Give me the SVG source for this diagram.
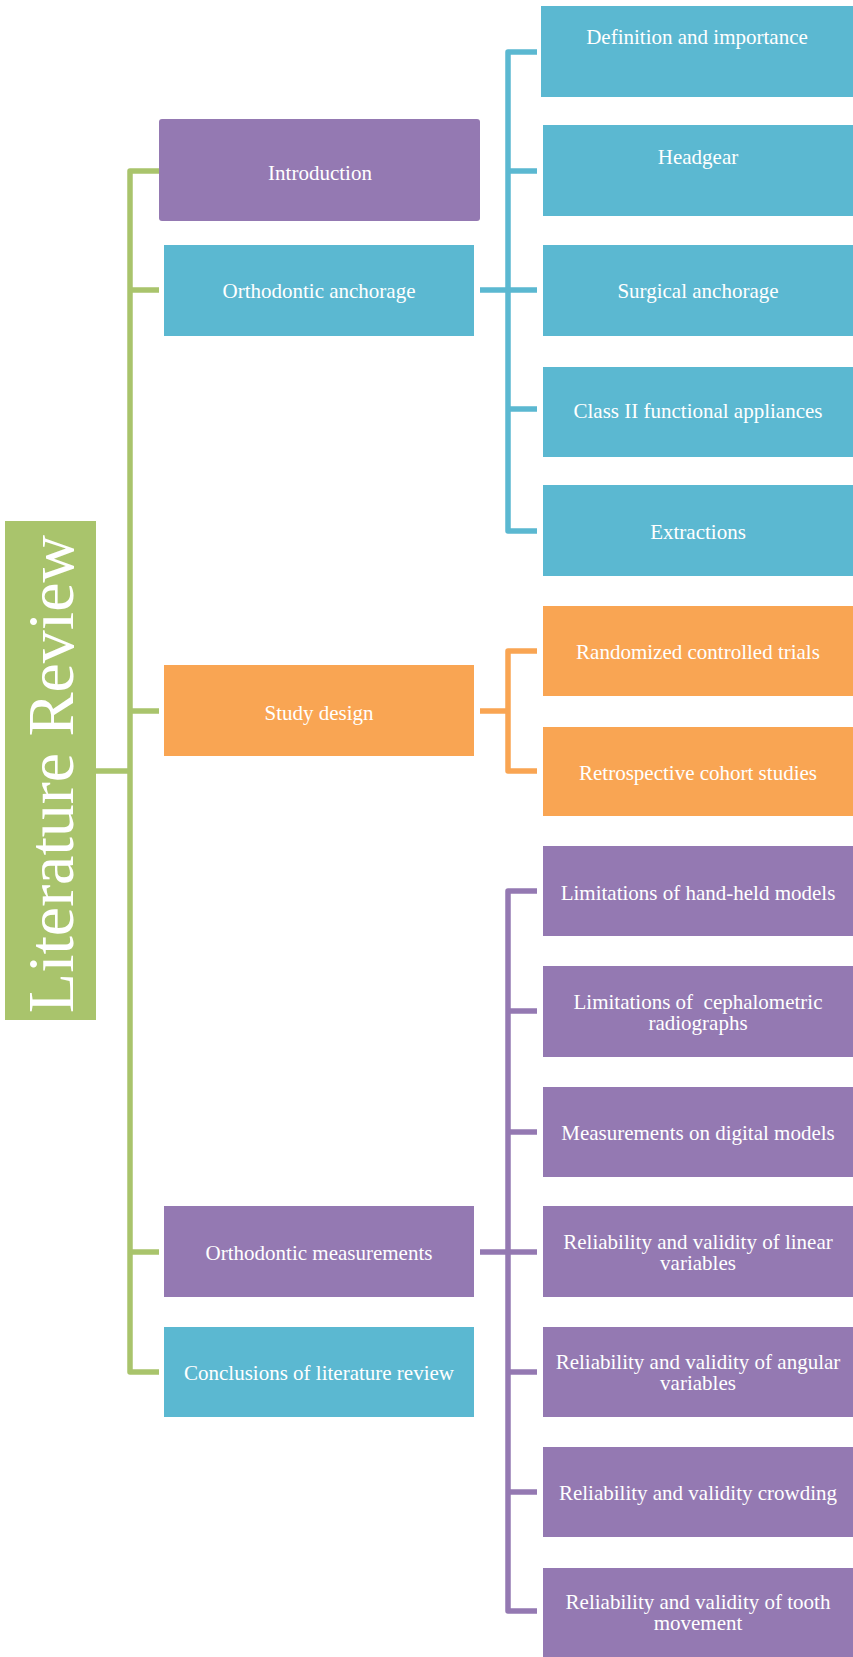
<svg xmlns="http://www.w3.org/2000/svg" width="853" height="1657" viewBox="0 0 853 1657">
<style>
.b{fill:#5BB8D1}.p{fill:#9479B2}.o{fill:#F9A553}.g{fill:#A9C46C}
text{font-family:"Liberation Serif","Times New Roman",serif;fill:#fff;font-size:21px;text-anchor:middle}
.cg,.cb,.co,.cp{fill:none;stroke-width:5.5;stroke-linejoin:round}
.cg{stroke:#A9C46C}.cb{stroke:#5BB8D1}.co{stroke:#F9A553}.cp{stroke:#9479B2}
</style>
<rect width="853" height="1657" fill="#fff"/>
<g id="connectors">
<path class="cg" d="M159,171 H130 V1372 H159 M130,290 H159 M130,711 H159 M130,1252 H159 M96,771 H130"/>
<path class="cb" d="M537,52 H508 V531 H537 M508,171 H537 M508,290 H537 M508,409 H537 M480,290 H508"/>
<path class="co" d="M537,651 H508 V771 H537 M480,711 H508"/>
<path class="cp" d="M537,891 H508 V1611 H537 M508,1011 H537 M508,1132 H537 M508,1252 H537 M508,1372 H537 M508,1492 H537 M480,1252 H508"/>
</g>
<g id="literature-review"><rect class="g" x="5" y="521" width="91" height="499"/><text transform="translate(73,774) rotate(-90)" style="font-size:66px">Literature Review</text></g>
<g id="introduction"><rect class="p" x="159" y="119" width="321" height="102" rx="3"/><text x="320" y="180">Introduction</text></g>
<g id="orthodontic-anchorage"><rect class="b" x="164" y="245" width="310" height="91"/><text x="319" y="298">Orthodontic anchorage</text></g>
<g id="study-design"><rect class="o" x="164" y="665" width="310" height="91"/><text x="319" y="720">Study design</text></g>
<g id="orthodontic-measurements"><rect class="p" x="164" y="1206" width="310" height="91"/><text x="319" y="1260">Orthodontic measurements</text></g>
<g id="conclusions"><rect class="b" x="164" y="1327" width="310" height="90"/><text x="319" y="1380">Conclusions of literature review</text></g>
<g id="definition"><rect class="b" x="541" y="6" width="312" height="91"/><text x="697" y="44">Definition and importance</text></g>
<g id="headgear"><rect class="b" x="543" y="125" width="310" height="91"/><text x="698" y="164">Headgear</text></g>
<g id="surgical"><rect class="b" x="543" y="245" width="310" height="91"/><text x="698" y="298">Surgical anchorage</text></g>
<g id="class2"><rect class="b" x="543" y="367" width="310" height="90"/><text x="698" y="418">Class II functional appliances</text></g>
<g id="extractions"><rect class="b" x="543" y="485" width="310" height="91"/><text x="698" y="539">Extractions</text></g>
<g id="rct"><rect class="o" x="543" y="606" width="310" height="90"/><text x="698" y="659">Randomized controlled trials</text></g>
<g id="retro"><rect class="o" x="543" y="727" width="310" height="89"/><text x="698" y="780">Retrospective cohort studies</text></g>
<g id="lim-hand"><rect class="p" x="543" y="846" width="310" height="90"/><text x="698" y="900">Limitations of hand-held models</text></g>
<g id="lim-ceph"><rect class="p" x="543" y="966" width="310" height="91"/><text x="698" y="1009" xml:space="preserve">Limitations of  cephalometric</text><text x="698" y="1030">radiographs</text></g>
<g id="meas-digital"><rect class="p" x="543" y="1087" width="310" height="90"/><text x="698" y="1140">Measurements on digital models</text></g>
<g id="rel-linear"><rect class="p" x="543" y="1206" width="310" height="91"/><text x="698" y="1249">Reliability and validity of linear</text><text x="698" y="1270">variables</text></g>
<g id="rel-angular"><rect class="p" x="543" y="1327" width="310" height="90"/><text x="698" y="1369">Reliability and validity of angular</text><text x="698" y="1390">variables</text></g>
<g id="rel-crowding"><rect class="p" x="543" y="1447" width="310" height="90"/><text x="698" y="1500">Reliability and validity crowding</text></g>
<g id="rel-tooth"><rect class="p" x="543" y="1568" width="310" height="91"/><text x="698" y="1609">Reliability and validity of tooth</text><text x="698" y="1630">movement</text></g>
</svg>
